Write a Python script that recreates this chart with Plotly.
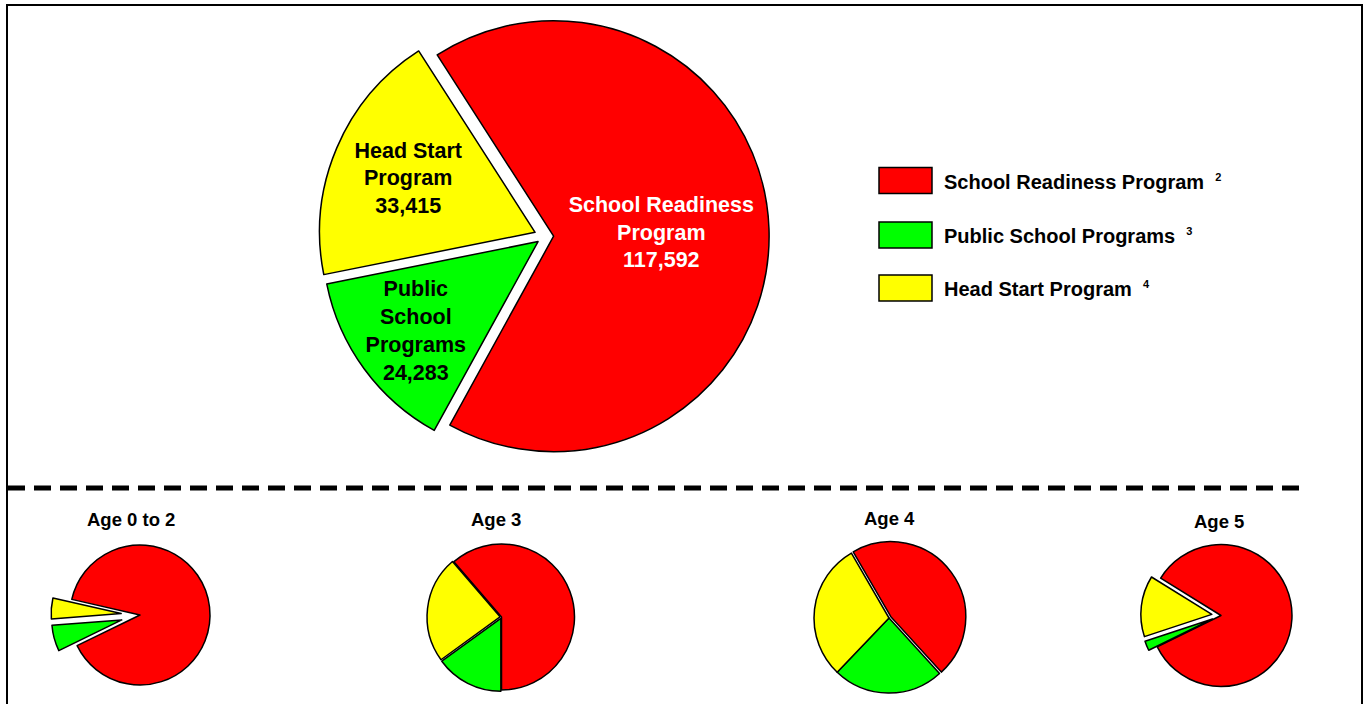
import plotly.graph_objects as go

# ---------------- data ----------------
programs = ["School Readiness Program", "Public School Programs", "Head Start Program"]
footnotes = ["2", "3", "4"]
slice_label_lines = ["School Readiness<br>Program", "Public<br>School<br>Programs", "Head Start<br>Program"]
colors = ["#FF0000", "#00FF00", "#FFFF00"]
total_values = [117592, 24283, 33415]

age_groups = ["Age 0 to 2", "Age 3", "Age 4", "Age 5"]
age_0_2 = [89.2, 6.0, 4.8]
age_3 = [61.3, 15.0, 23.7]
age_4 = [46.6, 23.9, 29.5]
age_5 = [83.9, 2.2, 13.9]
age_values = [age_0_2, age_3, age_4, age_5]

# ---------------- layout helpers ----------------
W, H = 1365, 704
FONT = "Arial, 'Liberation Sans', sans-serif"


def px_x(x):
    return x / W


def px_y(y):
    return (H - y) / H


def dom(cx, cy, half):
    return dict(x=[px_x(cx - half), px_x(cx + half)],
                y=[max(0.0, px_y(cy + half)), min(1.0, px_y(cy - half))])


fig = go.Figure()

# main pie
main_text = [f"{lab}<br>{v:,}" for lab, v in zip(slice_label_lines, total_values)]
main_pull = [0.04, 0.04, 0.05]
fig.add_trace(go.Pie(
    labels=programs, values=total_values, sort=False, direction="clockwise",
    rotation=-32.7, pull=main_pull,
    marker=dict(colors=colors, line=dict(color="black", width=1.5)),
    text=main_text, textinfo="text", textposition="inside",
    insidetextorientation="horizontal",
    textfont=dict(family=FONT, size=21.5, weight="bold", color=["white", "black", "black"]),
    hoverinfo="skip", showlegend=False,
    domain=dom(545, 236.5, 215.5 * (1 + max(main_pull))),
))

# small pies
small_specs = [
    # cx, cy, r, rotation, pull
    (140, 615, 70, -77.1, [0, 0.27, 0.27]),
    (501.5, 617, 73, -40.7, [0, 0.02, 0.02]),
    (889, 618, 75, -30.1, [0.03, 0, 0]),
    (1221, 615.5, 71, -58.2, [0, 0.13, 0.13]),
]
for vals, (cx, cy, r, rot, pull) in zip(age_values, small_specs):
    fig.add_trace(go.Pie(
        labels=programs, values=vals, sort=False, direction="clockwise",
        rotation=rot, pull=pull,
        marker=dict(colors=colors, line=dict(color="black", width=1.5)),
        textinfo="none", hoverinfo="skip", showlegend=False,
        domain=dom(cx, cy, r * (1 + max(pull))),
    ))

shapes = []
annotations = []

# frame
shapes.append(dict(type="rect", xref="paper", yref="paper",
                   x0=px_x(7), x1=px_x(1362), y0=-0.05, y1=px_y(5),
                   line=dict(color="black", width=2), fillcolor="rgba(0,0,0,0)", layer="below"))
# dashed separator
shapes.append(dict(type="line", xref="paper", yref="paper",
                   x0=px_x(8), x1=px_x(1302), y0=px_y(488), y1=px_y(488),
                   line=dict(color="black", width=5, dash="17px,9px")))

# custom legend
legend_rows_y = [180.5, 235, 288]
for name, fn, col, yc in zip(programs, footnotes, colors, legend_rows_y):
    shapes.append(dict(type="rect", xref="paper", yref="paper",
                       x0=px_x(879), x1=px_x(932), y0=px_y(yc + 13), y1=px_y(yc - 13),
                       fillcolor=col, line=dict(color="black", width=1.5)))
    annotations.append(dict(xref="paper", yref="paper", x=px_x(942), y=px_y(yc + 1),
                            xanchor="left", yanchor="middle", showarrow=False,
                            text=f"{name}  <sup><span style='font-size:11px'>{fn}</span></sup>",
                            font=dict(family=FONT, size=20, weight="bold", color="black")))

# age titles
title_pos = [(131, 519), (496, 519), (889, 518), (1219, 521)]
for t, (tx, ty) in zip(age_groups, title_pos):
    annotations.append(dict(xref="paper", yref="paper", x=px_x(tx), y=px_y(ty),
                            xanchor="center", yanchor="middle", showarrow=False,
                            text=t, font=dict(family=FONT, size=18.5, weight="bold", color="black")))

fig.update_layout(
    width=W, height=H,
    margin=dict(l=0, r=0, t=0, b=0),
    paper_bgcolor="white", plot_bgcolor="white",
    shapes=shapes, annotations=annotations,
    uniformtext=dict(minsize=21.5, mode="show"),
    showlegend=False,
)

fig.write_html("out.html")
